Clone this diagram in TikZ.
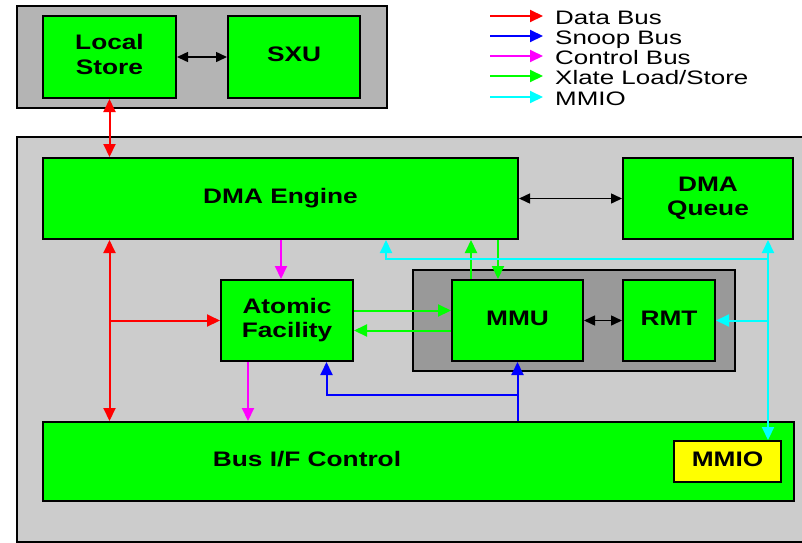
\documentclass[tikz,border=0pt]{standalone}
\usepackage{fontspec}
\setmainfont{Liberation Sans}
\usepackage{graphicx}
\usetikzlibrary{arrows.meta}
\newcommand\wl[1]{\scalebox{1.25}[1]{\begin{tabular}{@{}c@{}}#1\end{tabular}}}
\newcommand\wlg[1]{\scalebox{1.33}[1]{#1}}
\definecolor{grn}{RGB}{0,255,0}
\definecolor{rd}{RGB}{255,0,0}
\definecolor{bl}{RGB}{0,0,255}
\definecolor{mg}{RGB}{255,0,255}
\definecolor{cy}{RGB}{0,255,255}
\definecolor{ltgray}{RGB}{204,204,204}
\definecolor{midgray}{RGB}{180,180,180}
\definecolor{dkgray}{RGB}{153,153,153}
\definecolor{ylw}{RGB}{255,255,0}
\begin{document}
\begin{tikzpicture}[x=1pt,y=-1pt,
  box/.style={draw=black,line width=2pt,inner sep=0pt,anchor=north west},
  blk/.style={box,fill=grn,font=\fontsize{21}{24.5}\selectfont\bfseries},
  bus/.style={line width=2pt,>={Triangle[length=13pt,width=12pt]}},
  blkarrow/.style={line width=1.5pt,black,>={Triangle[length=11pt,width=10pt]}},
  legtxt/.style={anchor=base west,inner sep=0pt,font=\fontsize{19.5}{20}\selectfont}]
\useasboundingbox (0,0) rectangle (802,542);
\clip (0,0) rectangle (802,542);
\fill[white] (0,0) rectangle (802,542);

% containers
\node[box,fill=midgray,minimum width=370pt,minimum height=102pt] (top) at (16,5) {};
\node[box,fill=ltgray,minimum width=800pt,minimum height=405pt] (big) at (16,136) {};
\node[box,fill=dkgray,minimum width=322pt,minimum height=101pt] (mmuc) at (412,269) {};

% blocks
\node[blk,minimum width=133pt,minimum height=82pt] (ls) at (42,15) {\wl{Local\\Store}};
\node[blk,minimum width=132pt,minimum height=82pt] (sxu) at (227,15) {\wl{SXU}};
\node[blk,minimum width=475pt,minimum height=81pt] (dma) at (42,157) {\wl{DMA Engine}};
\node[blk,minimum width=170pt,minimum height=81pt] (dmaq) at (622,157) {\wl{DMA\\Queue}};
\node[blk,minimum width=132pt,minimum height=81pt] (atomic) at (220,279) {\wl{Atomic\\Facility}};
\node[blk,minimum width=131pt,minimum height=81pt] (mmu) at (451,279) {\wl{MMU}};
\node[blk,minimum width=92pt,minimum height=81pt] (rmt) at (622,279) {\wl{RMT}};
\node[blk,minimum width=751pt,minimum height=79pt] (bif) at (42,421) {};
\node[anchor=center,inner sep=0pt,font=\fontsize{21}{24.5}\selectfont\bfseries] (biflbl) at (307,462) {\wl{Bus I/F Control}};
\node[box,fill=ylw,minimum width=107pt,minimum height=41pt,font=\fontsize{21}{24.5}\selectfont\bfseries] (mmio) at (673,440) {\wl{MMIO}};

% black connectors
\draw[blkarrow,<->] (ls.east) -- (sxu.west);
\draw[blkarrow,<->] (dma.east) -- (dmaq.west);
\draw[blkarrow,<->] (mmu.east) -- (rmt.west);

% red data bus
\draw[bus,rd,<->] (ls.south) -- (ls.south |- dma.north);
\draw[bus,rd,<->] (ls.south |- dma.south) -- (ls.south |- bif.north);
\draw[bus,rd,->] (ls.south |- atomic.west) -- (atomic.west);

% magenta control bus
\draw[bus,mg,->] ([xshift=-6pt]atomic.north |- dma.south) -- ([xshift=-6pt]atomic.north);
\draw[bus,mg,->] ([xshift=-39pt]atomic.south) -- ([xshift=-39pt]atomic.south |- bif.north);

% green xlate load/store
\draw[bus,grn,->] ([yshift=10pt]atomic.east) -- ([yshift=10pt]atomic.east -| mmu.west);
\draw[bus,grn,->] ([yshift=-10pt]atomic.east -| mmu.west) -- ([yshift=-10pt]atomic.east);
\draw[bus,grn,->] ([xshift=-46.5pt]mmu.north) -- ([xshift=-46.5pt]mmu.north |- dma.south);
\draw[bus,grn,->] ([xshift=-19.5pt]mmu.north |- dma.south) -- ([xshift=-19.5pt]mmu.north);

% blue snoop bus
\coordinate (bj) at (516.5,395);
\draw[bus,bl,->] (mmu.south |- bif.north) -- (mmu.south);
\draw[bus,bl,->] (bj) -- ([xshift=39.5pt]atomic.south |- bj) -- ([xshift=39.5pt]atomic.south);

% cyan MMIO
\coordinate (cj) at (767,259);
\draw[bus,cy,<->] ([xshift=60pt]dmaq.south) -- ([xshift=60pt]dmaq.south |- mmio.north);
\draw[bus,cy,->] (cj) -- ([xshift=105.5pt]dma.south |- cj) -- ([xshift=105.5pt]dma.south);
\draw[bus,cy,->] (cj |- rmt.east) -- (rmt.east);

% legend
\node[legtxt] (l1) at (555,24) {\wlg{Data Bus}};
\node[legtxt] (l2) at (555,44) {\wlg{Snoop Bus}};
\node[legtxt] (l3) at (555,64) {\wlg{Control Bus}};
\node[legtxt] (l4) at (555,84) {\wlg{Xlate Load/Store}};
\node[legtxt] (l5) at (555,105) {\wlg{MMIO}};
\coordinate (a1) at (490,16);
\coordinate (a2) at (490,36);
\coordinate (a3) at (490,56);
\coordinate (a4) at (490,76);
\coordinate (a5) at (490,97);
\draw[bus,rd,->] (a1) -- ([xshift=-12pt]l1.base west |- a1);
\draw[bus,bl,->] (a2) -- ([xshift=-12pt]l2.base west |- a2);
\draw[bus,mg,->] (a3) -- ([xshift=-12pt]l3.base west |- a3);
\draw[bus,grn,->] (a4) -- ([xshift=-12pt]l4.base west |- a4);
\draw[bus,cy,->] (a5) -- ([xshift=-12pt]l5.base west |- a5);
\end{tikzpicture}
\end{document}
